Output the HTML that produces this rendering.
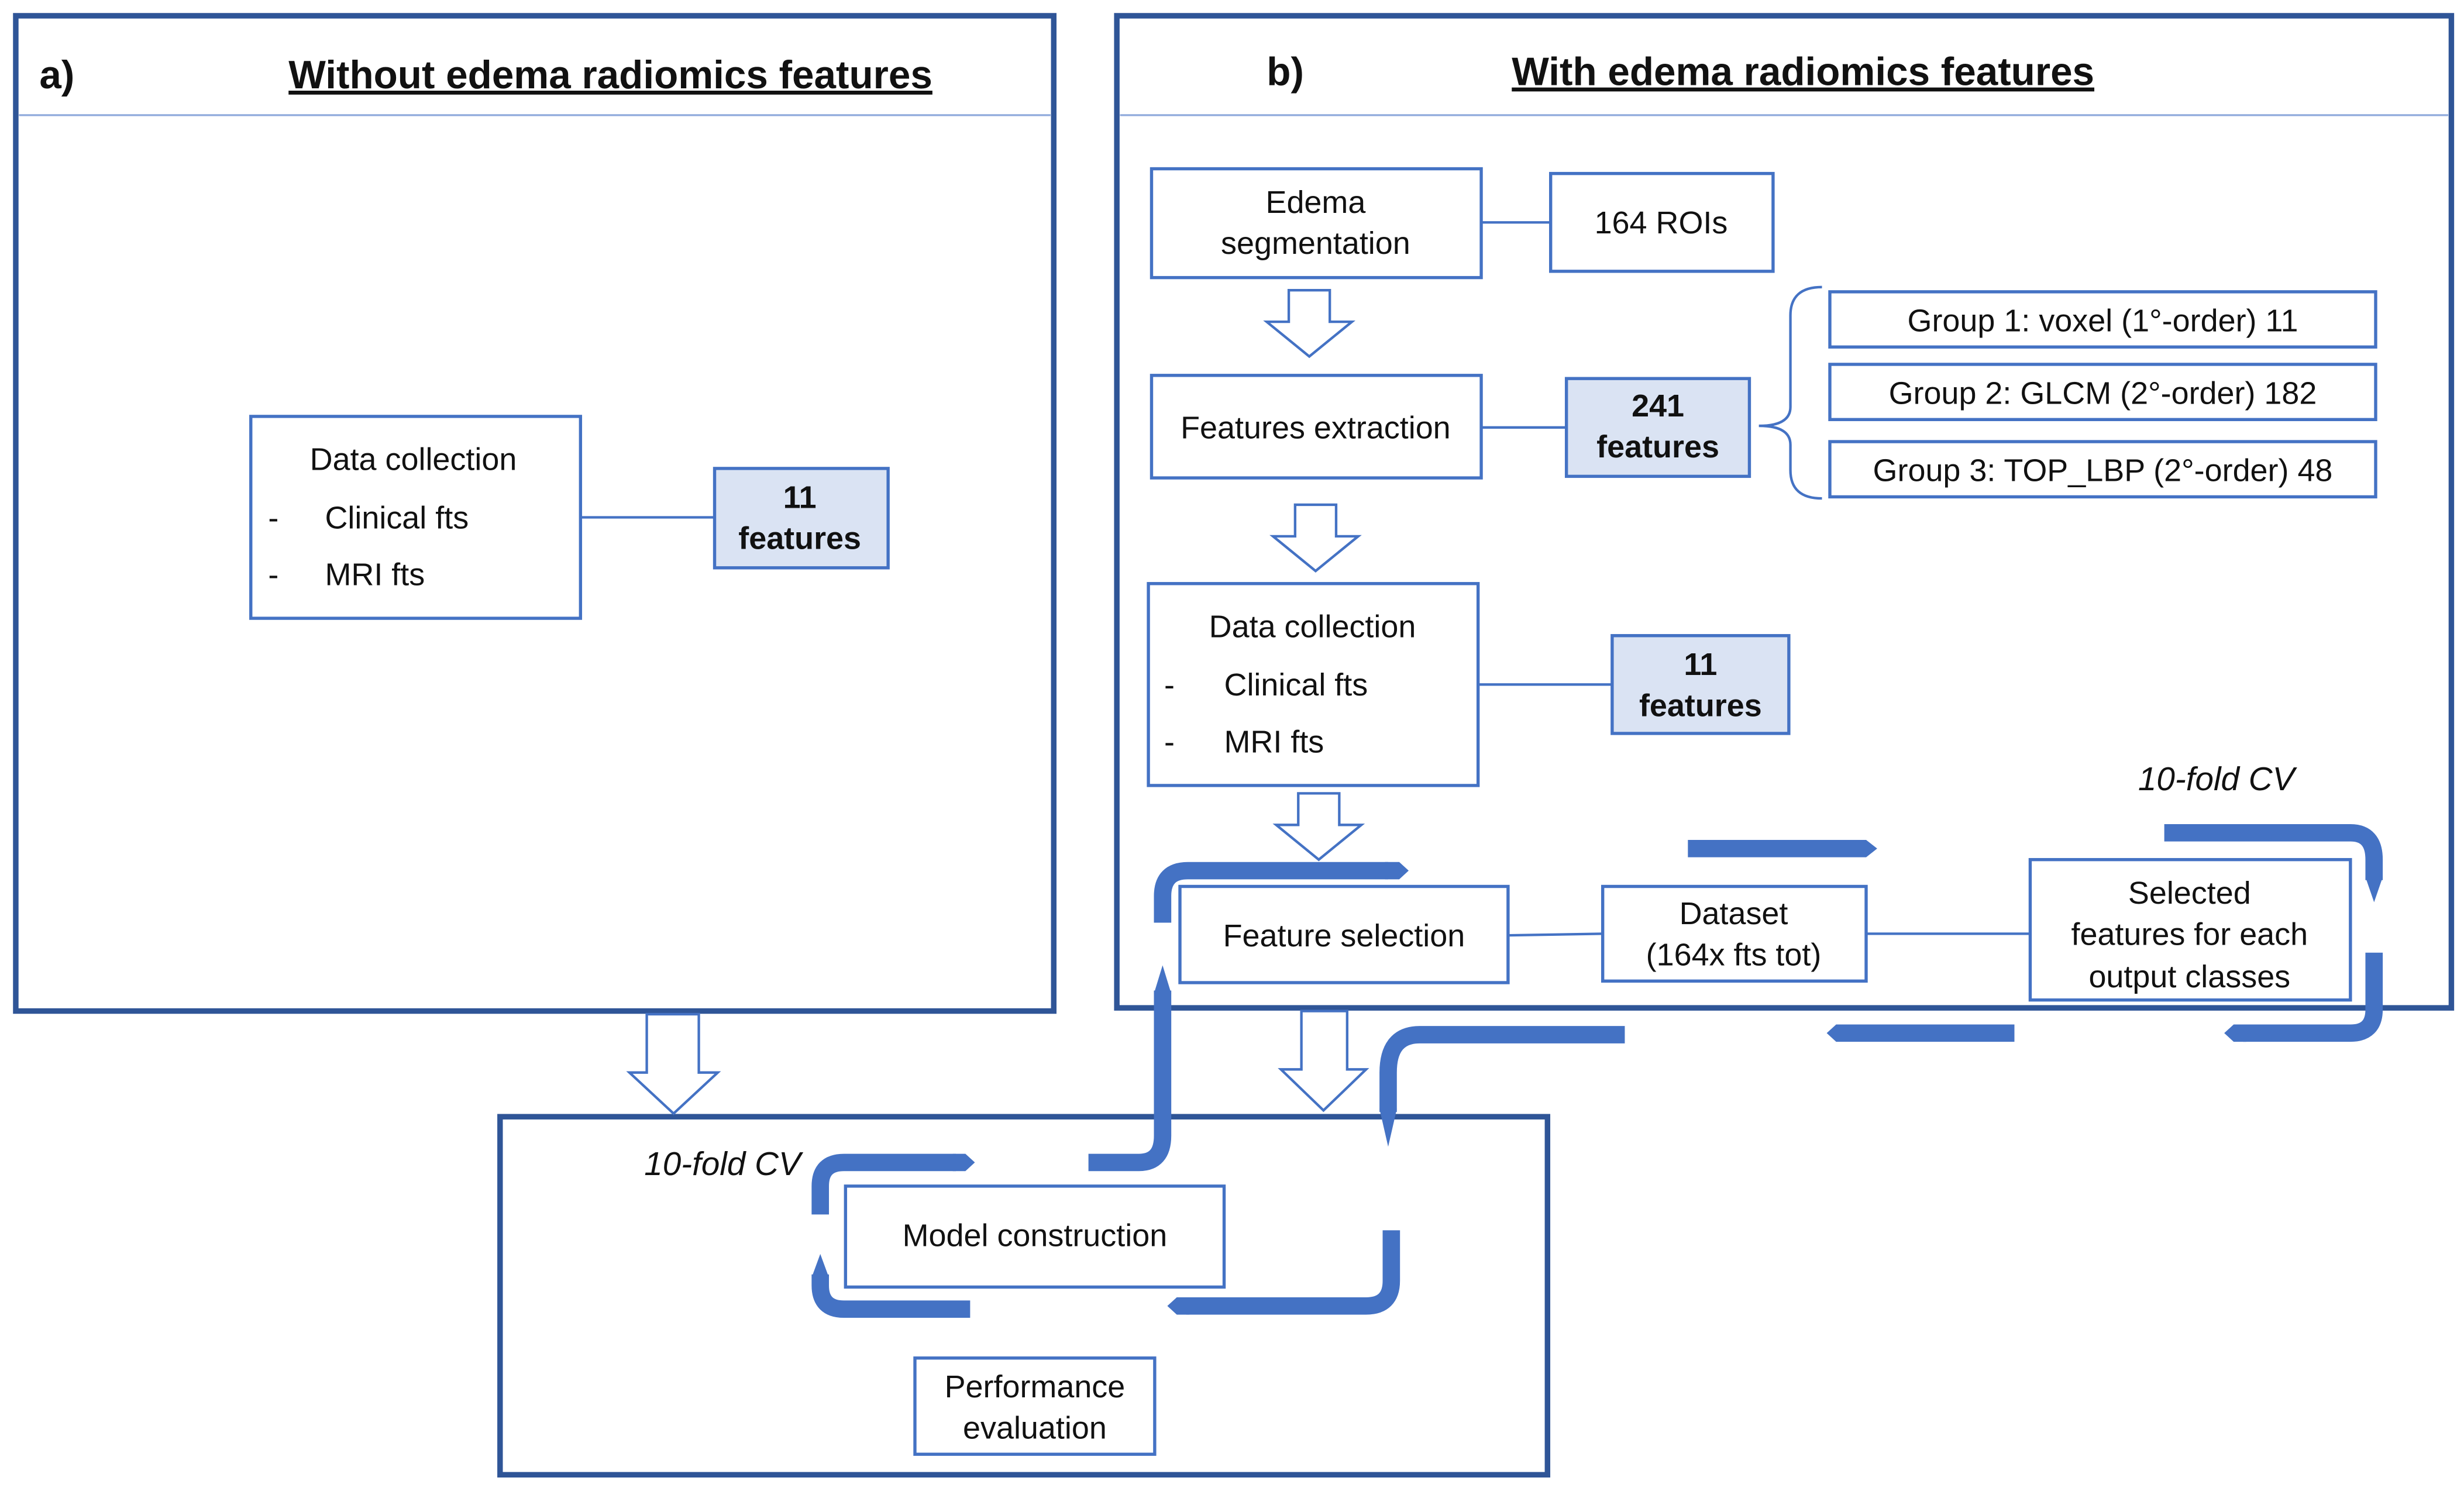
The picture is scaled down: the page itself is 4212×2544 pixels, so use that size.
<!DOCTYPE html>
<html><head><meta charset="utf-8"><style>
html,body{margin:0;padding:0;background:#fff;}
svg{display:block}
text{font-family:"Liberation Sans",sans-serif;fill:#111;}
</style></head><body>
<svg width="4212" height="2544" viewBox="0 0 1562 943.4" preserveAspectRatio="none" xmlns="http://www.w3.org/2000/svg">
<g fill="none" stroke="#2f5597" stroke-width="3.5">
<rect x="10" y="10" width="658" height="631"/>
<rect x="708" y="10" width="846" height="629"/>
<rect x="317" y="708" width="664" height="227"/>
</g>
<g stroke="#8faadc" stroke-width="1.2"><line x1="12" y1="73" x2="666" y2="73"/><line x1="710" y1="73" x2="1552" y2="73"/></g>
<g font-size="25" font-weight="bold">
<text x="25" y="56">a)</text>
<text x="387" y="56" text-anchor="middle" text-decoration="underline">Without edema radiomics features</text>
<text x="803" y="54">b)</text>
<text x="1143" y="54" text-anchor="middle" text-decoration="underline">With edema radiomics features</text>
</g>
<g fill="#fff" stroke="#4472c4" stroke-width="2">
<rect x="159" y="264" width="209" height="128"/>
<rect x="730" y="107" width="209" height="69"/>
<rect x="983" y="110" width="141" height="62"/>
<rect x="730" y="238" width="209" height="65"/>
<rect x="1160" y="185" width="346" height="35"/>
<rect x="1160" y="231" width="346" height="35"/>
<rect x="1160" y="280" width="346" height="35"/>
<rect x="728" y="370" width="209" height="128"/>
<rect x="748" y="562" width="208" height="61"/>
<rect x="1016" y="562" width="167" height="60"/>
<rect x="1287" y="545" width="203" height="89"/>
<rect x="536" y="752" width="240" height="64"/>
<rect x="580" y="861" width="152" height="61"/>
</g>
<g fill="#dae3f3" stroke="#4472c4" stroke-width="2">
<rect x="453" y="297" width="110" height="63"/>
<rect x="993" y="240" width="116" height="62"/>
<rect x="1022" y="403" width="112" height="62"/>
</g>
<g stroke="#4472c4" stroke-width="1.6" fill="none">
<line x1="368" y1="328" x2="453" y2="328"/>
<line x1="939" y1="141" x2="983" y2="141"/>
<line x1="939" y1="271" x2="993" y2="271"/>
<line x1="937" y1="434" x2="1022" y2="434"/>
<line x1="956" y1="593" x2="1016" y2="592"/>
<line x1="1183" y1="592" x2="1287" y2="592"/>
<path d="M1155,182 Q1135,182 1135,200 V258 Q1135,270 1115,270 Q1135,270 1135,282 V298 Q1135,316 1155,316"/>
</g>
<g fill="#fff" stroke="#4472c4" stroke-width="1.6">
<polygon points="817,184 843,184 843,204 857,204 830,226 803,204 817,204"/>
<polygon points="821,320 847,320 847,340 861,340 834,362 807,340 821,340"/>
<polygon points="823,503 849,503 849,523 863,523 836,545 809,523 823,523"/>
<polygon points="410,643 443,643 443,680 455,680 427,706 399,680 410,680"/>
<polygon points="825,641 854,641 854,678 866,678 839,704 812,678 825,678"/>
</g>
<g fill="none" stroke="#4472c4" stroke-width="11">
<path d="M737,585 V568 Q737,552 753,552 H880"/>
<path d="M1372,528 H1490 Q1505,528 1505,545 V558"/>
<path d="M1505,604 V640 Q1505,655 1490,655 H1422"/>
<path d="M1030,656 H900 Q880,656 880,680 V705"/>
<path d="M690,737 H722 Q737,737 737,720 V628"/>
<path d="M520,770 V752 Q520,737 535,737 H606"/>
<path d="M615,830 H535 Q520,830 520,815 V808"/>
<path d="M882,780 V812 Q882,828 866,828 H752"/>
</g>
<g fill="#4472c4">
<polygon points="878,546.5 887,546.5 893,552 887,557.5 878,557.5"/>
<polygon points="1070,532.5 1183,532.5 1190,538 1183,543.5 1070,543.5"/>
<polygon points="1499.5,556 1510.5,556 1505,572"/>
<polygon points="1424,649.5 1424,660.5 1416,660.5 1410,655 1416,649.5"/>
<polygon points="1277,649.5 1164,649.5 1158,655 1164,660.5 1277,660.5"/>
<polygon points="874.5,703 885.5,703 880,727"/>
<polygon points="731.5,630 742.5,630 737,612"/>
<polygon points="604,731.5 612,731.5 618,737 612,742.5 604,742.5"/>
<polygon points="514.5,810 525.5,810 520,795"/>
<polygon points="754,822.5 754,833.5 746,833.5 740,828 746,822.5"/>
</g>
<g font-size="20" text-anchor="middle">
<text x="262" y="298">Data collection</text>
<text x="170" y="335" text-anchor="start">-</text>
<text x="206" y="335" text-anchor="start">Clinical fts</text>
<text x="170" y="371" text-anchor="start">-</text>
<text x="206" y="371" text-anchor="start">MRI fts</text>
<text x="834" y="135">Edema</text>
<text x="834" y="161">segmentation</text>
<text x="1053" y="148">164 ROIs</text>
<text x="834" y="278">Features extraction</text>
<text x="1333" y="210">Group 1: voxel (1°-order) 11</text>
<text x="1333" y="256">Group 2: GLCM (2°-order) 182</text>
<text x="1333" y="305">Group 3: TOP_LBP (2°-order) 48</text>
<text x="832" y="404">Data collection</text>
<text x="738" y="441" text-anchor="start">-</text>
<text x="776" y="441" text-anchor="start">Clinical fts</text>
<text x="738" y="477" text-anchor="start">-</text>
<text x="776" y="477" text-anchor="start">MRI fts</text>
<text x="852" y="600">Feature selection</text>
<text x="1099" y="586">Dataset</text>
<text x="1099" y="612">(164x fts tot)</text>
<text x="1388" y="573">Selected</text>
<text x="1388" y="599">features for each</text>
<text x="1388" y="626">output classes</text>
<text x="656" y="790">Model construction</text>
<text x="656" y="886">Performance</text>
<text x="656" y="912">evaluation</text>
</g>
<g font-size="20" text-anchor="middle" font-weight="bold">
<text x="507" y="322">11</text><text x="507" y="348">features</text>
<text x="1051" y="264">241</text><text x="1051" y="290">features</text>
<text x="1078" y="428">11</text><text x="1078" y="454">features</text>
</g>
<g font-size="21" font-style="italic">
<text x="1405" y="501" text-anchor="middle">10-fold CV</text>
<text x="458" y="745" text-anchor="middle">10-fold CV</text>
</g>
</svg>
</body></html>
